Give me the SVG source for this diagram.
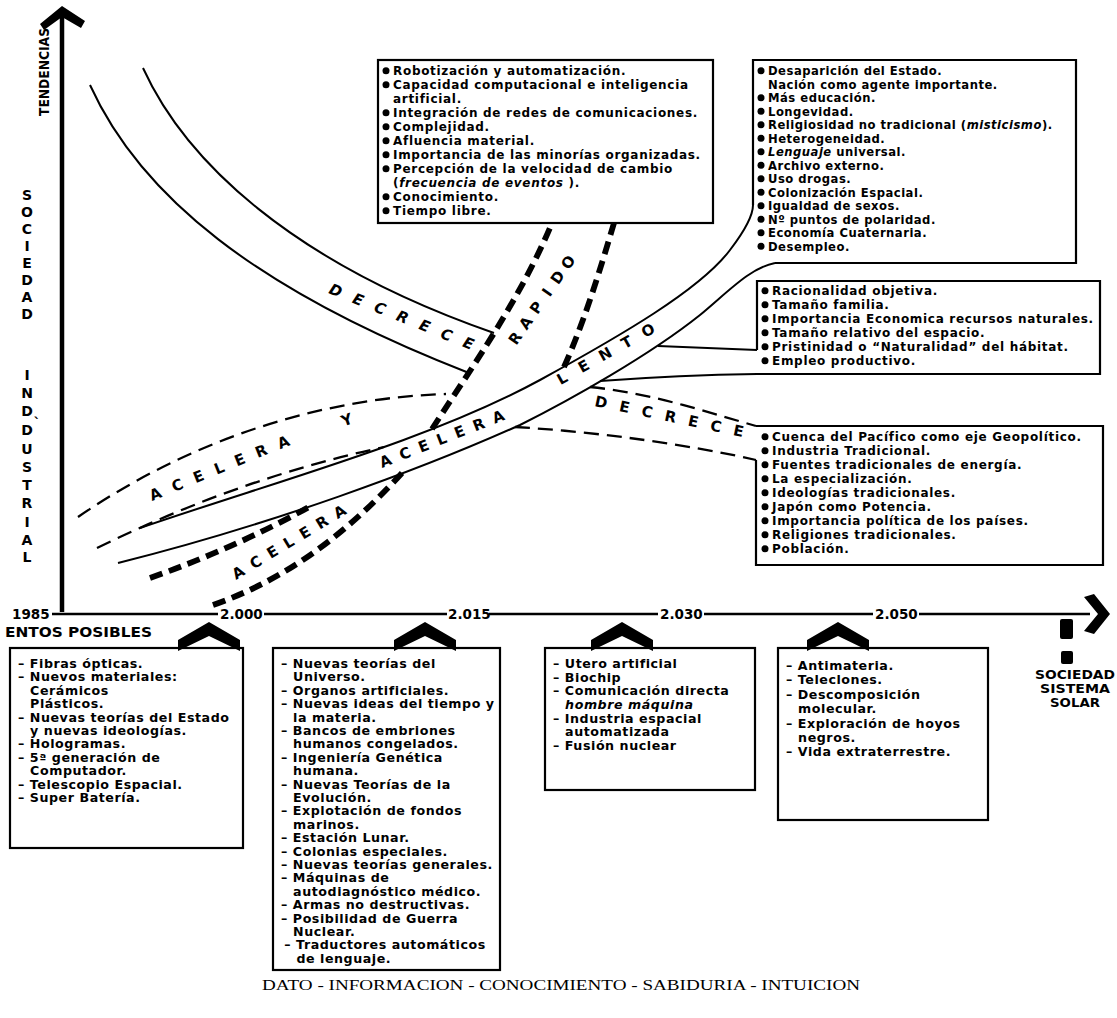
<svg xmlns="http://www.w3.org/2000/svg" width="1117" height="1018" viewBox="0 0 1117 1018">
<style>
.bg{fill:#fff}
.ln{fill:none;stroke:#000;stroke-width:2}
.box{fill:none;stroke:#000;stroke-width:2.2}
.thin{fill:none;stroke:#000;stroke-width:2.3;stroke-dasharray:15 8}
.thick{fill:none;stroke:#000;stroke-width:5.8;stroke-dasharray:13 7}
.t{font-family:"DejaVu Sans","Liberation Sans",sans-serif;font-weight:700;fill:#000}
.ta{font-size:12px;letter-spacing:0.7px}
.tb{font-size:11.6px;letter-spacing:0.5px}
.tc{font-size:12px;letter-spacing:0.7px}
.tl{font-size:11.5px;letter-spacing:0.5px}
.lbl{font-family:"DejaVu Sans","Liberation Sans",sans-serif;font-weight:700;font-size:15px;fill:#000}
.lc{font-family:"DejaVu Sans","Liberation Sans",sans-serif;font-weight:700;font-size:15px;fill:#000;text-anchor:middle}
.vl{font-family:"DejaVu Sans","Liberation Sans",sans-serif;font-weight:700;font-size:14px;text-anchor:middle}
.yr{font-family:"DejaVu Sans","Liberation Sans",sans-serif;font-weight:700;font-size:13.5px}
.i{font-style:italic}
</style>
<defs>
<path id="chev" d="M-31,29 L-31,18 L0,0 L31,18 L31,29 L0,14 Z"/>
<path id="lp-dec1" d="M328,293 L481,354"/>
<path id="lp-ac1" d="M152,501 L310,437"/>
<path id="lp-ac2" d="M382,468 L517,415"/>
<path id="lp-ac3" d="M236,580 L361,505"/>
<path id="lp-dec2" d="M594,406 L756,440"/>
</defs>
<rect class="bg" x="0" y="0" width="1117" height="1018"/>

<g id="axes">
<line x1="62" y1="14" x2="62" y2="612" stroke="#000" stroke-width="4.5"/>
<path d="M40,24 L62,6 L85,21 L81,28 L62,17 L44,30 Z" fill="#000"/>
<text class="t" font-size="14" text-anchor="middle" transform="translate(49,72) rotate(-90)" textLength="88" lengthAdjust="spacingAndGlyphs">TENDENCIAS</text>
<text class="vl"><tspan x="27" y="200">S</tspan><tspan x="27" y="217">O</tspan><tspan x="27" y="234">C</tspan><tspan x="27" y="251">I</tspan><tspan x="27" y="268">E</tspan><tspan x="27" y="285">D</tspan><tspan x="27" y="302">A</tspan><tspan x="27" y="319">D</tspan></text>
<text class="vl"><tspan x="27" y="380">I</tspan><tspan x="27" y="398">N</tspan><tspan x="27" y="416">D</tspan><tspan x="27" y="435">D</tspan><tspan x="27" y="454">U</tspan><tspan x="27" y="472">S</tspan><tspan x="27" y="490">T</tspan><tspan x="27" y="508">R</tspan><tspan x="27" y="527">I</tspan><tspan x="27" y="545">A</tspan><tspan x="27" y="562">L</tspan></text>
<text class="vl" x="37" y="428" font-size="10">`</text>
</g>

<g id="connectors">
<!-- DECRECE upper-left band -->
<path class="ln" d="M90,85 C140,195 255,290 469,373"/>
<path class="ln" d="M143,68 C185,160 290,262 494,333"/>
<!-- ACELERA LENTO band -->
<path class="ln" d="M140,528 C280,480 430,440 540,380 C620,336 700,290 730,250 Q753,220 753,205"/>
<path class="ln" d="M118,563 C270,525 420,470 520,425 C570,400 650,355 700,315 C730,290 750,268 775,263"/>
<!-- DECRECE solid to box C -->
<path class="ln" d="M658,346 Q710,348 757,350"/>
<path class="ln" d="M600,381 Q680,375 757,374"/>
<!-- ACELERA Y DECRECE thin dashed band -->
<path class="thin" d="M78,517 C190,440 320,398 446,394"/>
<path class="thin" d="M97,548 Q240,478 384,447"/>
<path class="thin" d="M590,387 C650,393 700,410 756,426"/>
<path class="thin" d="M515,427 C600,432 690,445 756,460"/>
<!-- ACELERA RAPIDO thick dashed band -->
<path class="thick" d="M150,578 Q235,548 309,507"/>
<path class="thick" d="M213,605 C290,578 350,530 402,473"/>
<path class="thick" d="M432,429 C470,370 520,300 552,223"/>
<path class="thick" d="M564,367 C585,320 600,270 614,223"/>
</g>

<g id="band-labels">
<text class="lbl i" letter-spacing="12.9"><textPath href="#lp-dec1">DECRECE</textPath></text>
<text class="lbl" letter-spacing="12.3"><textPath href="#lp-ac1">ACELERA</textPath></text>
<text class="lc" x="347" y="425" transform="rotate(-20 347 420)">Y</text>
<text class="lbl" letter-spacing="9.5"><textPath href="#lp-ac2">ACELERA</textPath></text>
<g id="lento">
<text class="lc" x="562" y="383.5" transform="rotate(-29 562 378)">L</text>
<text class="lc" x="583.5" y="371.5" transform="rotate(-29 583.5 366)">E</text>
<text class="lc" x="605" y="359.5" transform="rotate(-29 605 354)">N</text>
<text class="lc" x="626.5" y="347.5" transform="rotate(-29 626.5 342)">T</text>
<text class="lc" x="648" y="335.5" transform="rotate(-29 648 330)">O</text>
</g>
<text class="lbl" letter-spacing="9"><textPath href="#lp-ac3">ACELERA</textPath></text>
<g id="rapido">
<text class="lc" x="515" y="343.5" transform="rotate(-55 515 338)">R</text>
<text class="lc" x="525.6" y="328.3" transform="rotate(-55 525.6 322.8)">A</text>
<text class="lc" x="536.2" y="313.1" transform="rotate(-55 536.2 307.6)">P</text>
<text class="lc" x="546.8" y="297.9" transform="rotate(-55 546.8 292.4)">I</text>
<text class="lc" x="557.4" y="282.7" transform="rotate(-55 557.4 277.2)">D</text>
<text class="lc" x="568" y="267.5" transform="rotate(-55 568 262)">O</text>
</g>
<text class="lbl" letter-spacing="12.5"><textPath href="#lp-dec2">DECRECE</textPath></text>
</g>

<g id="box-a">
<rect class="box" x="378" y="60" width="335" height="163"/>
<g fill="#000"><circle cx="386" cy="70.8" r="3.5"/><circle cx="386" cy="84.8" r="3.5"/><circle cx="386" cy="112.8" r="3.5"/><circle cx="386" cy="126.8" r="3.5"/><circle cx="386" cy="140.8" r="3.5"/><circle cx="386" cy="154.8" r="3.5"/><circle cx="386" cy="168.8" r="3.5"/><circle cx="386" cy="196.8" r="3.5"/><circle cx="386" cy="210.8" r="3.5"/></g>
<text class="t ta" x="393" y="75">Robotización y automatización.</text>
<text class="t ta" x="393" y="89">Capacidad computacional e inteligencia</text>
<text class="t ta" x="393" y="103">artificial.</text>
<text class="t ta" x="393" y="117">Integración de redes de comunicaciones.</text>
<text class="t ta" x="393" y="131">Complejidad.</text>
<text class="t ta" x="393" y="145">Afluencia material.</text>
<text class="t ta" x="393" y="159">Importancia de las minorías organizadas.</text>
<text class="t ta" x="393" y="173">Percepción de la velocidad de cambio</text>
<text class="t ta" x="393" y="187">(<tspan class="i">frecuencia de eventos</tspan> ).</text>
<text class="t ta" x="393" y="201">Conocimiento.</text>
<text class="t ta" x="393" y="215">Tiempo libre.</text>
</g>

<g id="box-b">
<path class="box" d="M753,205 L753,60 L1076,60 L1076,263 L775,263"/>
<g fill="#000"><circle cx="761" cy="70.8" r="3.5"/><circle cx="761" cy="97.8" r="3.5"/><circle cx="761" cy="111.3" r="3.5"/><circle cx="761" cy="124.8" r="3.5"/><circle cx="761" cy="138.3" r="3.5"/><circle cx="761" cy="151.8" r="3.5"/><circle cx="761" cy="165.3" r="3.5"/><circle cx="761" cy="178.8" r="3.5"/><circle cx="761" cy="192.3" r="3.5"/><circle cx="761" cy="205.8" r="3.5"/><circle cx="761" cy="219.3" r="3.5"/><circle cx="761" cy="232.8" r="3.5"/><circle cx="761" cy="246.3" r="3.5"/></g>
<text class="t tb" x="768" y="75">Desaparición del Estado.</text>
<text class="t tb" x="768" y="88.5">Nación como agente importante.</text>
<text class="t tb" x="768" y="102">Más educación.</text>
<text class="t tb" x="768" y="115.5">Longevidad.</text>
<text class="t tb" x="768" y="129">Religiosidad no tradicional (<tspan class="i">misticismo</tspan>).</text>
<text class="t tb" x="768" y="142.5">Heterogeneidad.</text>
<text class="t tb" x="768" y="156"><tspan class="i">Lenguaje</tspan> universal.</text>
<text class="t tb" x="768" y="169.5">Archivo externo.</text>
<text class="t tb" x="768" y="183">Uso drogas.</text>
<text class="t tb" x="768" y="196.5">Colonización Espacial.</text>
<text class="t tb" x="768" y="210">Igualdad de sexos.</text>
<text class="t tb" x="768" y="223.5">Nº puntos de polaridad.</text>
<text class="t tb" x="768" y="237">Economía Cuaternaria.</text>
<text class="t tb" x="768" y="250.5">Desempleo.</text>
</g>

<g id="box-c">
<path class="box" d="M757,350 L757,281 L1100,281 L1100,374 L757,374"/>
<g fill="#000"><circle cx="765" cy="290.8" r="3.5"/><circle cx="765" cy="304.8" r="3.5"/><circle cx="765" cy="318.8" r="3.5"/><circle cx="765" cy="332.8" r="3.5"/><circle cx="765" cy="346.8" r="3.5"/><circle cx="765" cy="360.8" r="3.5"/></g>
<text class="t tc" x="772" y="295">Racionalidad objetiva.</text>
<text class="t tc" x="772" y="309">Tamaño familia.</text>
<text class="t tc" x="772" y="323">Importancia Economica recursos naturales.</text>
<text class="t tc" x="772" y="337">Tamaño relativo del espacio.</text>
<text class="t tc" x="772" y="351">Pristinidad o “Naturalidad” del hábitat.</text>
<text class="t tc" x="772" y="365">Empleo productivo.</text>
</g>

<g id="box-d">
<path class="box" d="M756,426 L1103,426 L1103,565 L756,565 L756,460"/>
<g fill="#000"><circle cx="765" cy="436.8" r="3.5"/><circle cx="765" cy="450.8" r="3.5"/><circle cx="765" cy="464.8" r="3.5"/><circle cx="765" cy="478.8" r="3.5"/><circle cx="765" cy="492.8" r="3.5"/><circle cx="765" cy="506.8" r="3.5"/><circle cx="765" cy="520.8" r="3.5"/><circle cx="765" cy="534.8" r="3.5"/><circle cx="765" cy="548.8" r="3.5"/></g>
<text class="t tc" x="772" y="441">Cuenca del Pacífico como eje Geopolítico.</text>
<text class="t tc" x="772" y="455">Industria Tradicional.</text>
<text class="t tc" x="772" y="469">Fuentes tradicionales de energía.</text>
<text class="t tc" x="772" y="483">La especialización.</text>
<text class="t tc" x="772" y="497">Ideologías tradicionales.</text>
<text class="t tc" x="772" y="511">Japón como Potencia.</text>
<text class="t tc" x="772" y="525">Importancia política de los países.</text>
<text class="t tc" x="772" y="539">Religiones tradicionales.</text>
<text class="t tc" x="772" y="553">Población.</text>
</g>

<g id="timeline">
<text class="yr" x="12" y="619">1985</text>
<g stroke="#000" stroke-width="2.5"><line x1="52" y1="614" x2="218" y2="614"/><line x1="264" y1="614" x2="447" y2="614"/><line x1="489" y1="614" x2="658" y2="614"/><line x1="704" y1="614" x2="873" y2="614"/><line x1="919" y1="614" x2="1090" y2="614"/></g>
<path d="M1084,597 L1094,594 L1110,614 L1094,634 L1084,631 L1098,614 Z" fill="#000"/>
<text class="yr" x="220" y="619">2.000</text>
<text class="yr" x="448" y="619">2.015</text>
<text class="yr" x="660" y="619">2.030</text>
<text class="yr" x="875" y="619">2.050</text>
<use href="#chev" x="209" y="622"/>
<use href="#chev" x="425" y="622"/>
<use href="#chev" x="622" y="622"/>
<use href="#chev" x="838" y="622"/>
<text class="t" x="5" y="637" font-size="14" textLength="147" lengthAdjust="spacingAndGlyphs">ENTOS POSIBLES</text>
</g>

<g id="box-1">
<rect class="box" x="10" y="648" width="233" height="200"/>
<g transform="translate(18 0) scale(1.1 1)">
<text class="t tl" x="0" y="668">– Fibras ópticas.</text>
<text class="t tl" x="0" y="681.4">– Nuevos materiales:</text>
<text class="t tl" x="11" y="694.8">Cerámicos</text>
<text class="t tl" x="11" y="708.2">Plásticos.</text>
<text class="t tl" x="0" y="721.6">– Nuevas teorías del Estado</text>
<text class="t tl" x="11" y="735">y nuevas ideologías.</text>
<text class="t tl" x="0" y="748.4">– Hologramas.</text>
<text class="t tl" x="0" y="761.8">– 5ª generación de</text>
<text class="t tl" x="11" y="775.2">Computador.</text>
<text class="t tl" x="0" y="788.6">– Telescopio Espacial.</text>
<text class="t tl" x="0" y="802">– Super Batería.</text>
</g>
</g>

<g id="box-2">
<rect class="box" x="273" y="648" width="227" height="322"/>
<g transform="translate(281 0) scale(1.1 1)">
<text class="t tl" x="0" y="668">– Nuevas teorías del</text>
<text class="t tl" x="11" y="681.4">Universo.</text>
<text class="t tl" x="0" y="694.8">– Organos artificiales.</text>
<text class="t tl" x="0" y="708.2">– Nuevas ideas del tiempo y</text>
<text class="t tl" x="11" y="721.6">la materia.</text>
<text class="t tl" x="0" y="735">– Bancos de embriones</text>
<text class="t tl" x="11" y="748.4">humanos congelados.</text>
<text class="t tl" x="0" y="761.8">– Ingeniería Genética</text>
<text class="t tl" x="11" y="775.2">humana.</text>
<text class="t tl" x="0" y="788.6">– Nuevas Teorías de la</text>
<text class="t tl" x="11" y="802">Evolución.</text>
<text class="t tl" x="0" y="815.4">– Explotación de fondos</text>
<text class="t tl" x="11" y="828.8">marinos.</text>
<text class="t tl" x="0" y="842.2">– Estación Lunar.</text>
<text class="t tl" x="0" y="855.6">– Colonias especiales.</text>
<text class="t tl" x="0" y="869">– Nuevas teorías generales.</text>
<text class="t tl" x="0" y="882.4">– Máquinas de</text>
<text class="t tl" x="11" y="895.8">autodiagnóstico médico.</text>
<text class="t tl" x="0" y="909.2">– Armas no destructivas.</text>
<text class="t tl" x="0" y="922.6">– Posibilidad de Guerra</text>
<text class="t tl" x="11" y="936">Nuclear.</text>
<text class="t tl" x="3" y="949.4">– Traductores automáticos</text>
<text class="t tl" x="14" y="962.8">de lenguaje.</text>
</g>
</g>

<g id="box-3">
<rect class="box" x="545" y="648" width="210" height="142"/>
<g transform="translate(553 0) scale(1.1 1)">
<text class="t tl" x="0" y="668">– Utero artificial</text>
<text class="t tl" x="0" y="681.7">– Biochip</text>
<text class="t tl" x="0" y="695.4">– Comunicación directa</text>
<text class="t tl i" x="11" y="709.1">hombre máquina</text>
<text class="t tl" x="0" y="722.8">– Industria espacial</text>
<text class="t tl" x="11" y="736.5">automatizada</text>
<text class="t tl" x="0" y="750.2">– Fusión nuclear</text>
</g>
</g>

<g id="box-4">
<rect class="box" x="778" y="648" width="210" height="172"/>
<g transform="translate(786 0) scale(1.1 1)">
<text class="t tl" x="0" y="670">– Antimateria.</text>
<text class="t tl" x="0" y="684.4">– Teleclones.</text>
<text class="t tl" x="0" y="698.8">– Descomposición</text>
<text class="t tl" x="11" y="713.2">molecular.</text>
<text class="t tl" x="0" y="727.6">– Exploración de hoyos</text>
<text class="t tl" x="11" y="742">negros.</text>
<text class="t tl" x="0" y="756.4">– Vida extraterrestre.</text>
</g>
</g>

<g id="sociedad-solar">
<rect x="1060" y="619" width="13" height="20" rx="2" fill="#000"/>
<rect x="1061" y="651" width="12" height="13" rx="2" fill="#000"/>
<text class="t" font-size="12" x="1035" y="679" textLength="80" lengthAdjust="spacingAndGlyphs">SOCIEDAD</text>
<text class="t" font-size="12" x="1040" y="693" textLength="70" lengthAdjust="spacingAndGlyphs">SISTEMA</text>
<text class="t" font-size="12" x="1050" y="707" textLength="50" lengthAdjust="spacingAndGlyphs">SOLAR</text>
</g>

<g id="footer">
<text x="262" y="990" font-family="'Liberation Serif',serif" font-size="15" textLength="598" lengthAdjust="spacingAndGlyphs">DATO - INFORMACION - CONOCIMIENTO - SABIDURIA - INTUICION</text>
</g>
</svg>
